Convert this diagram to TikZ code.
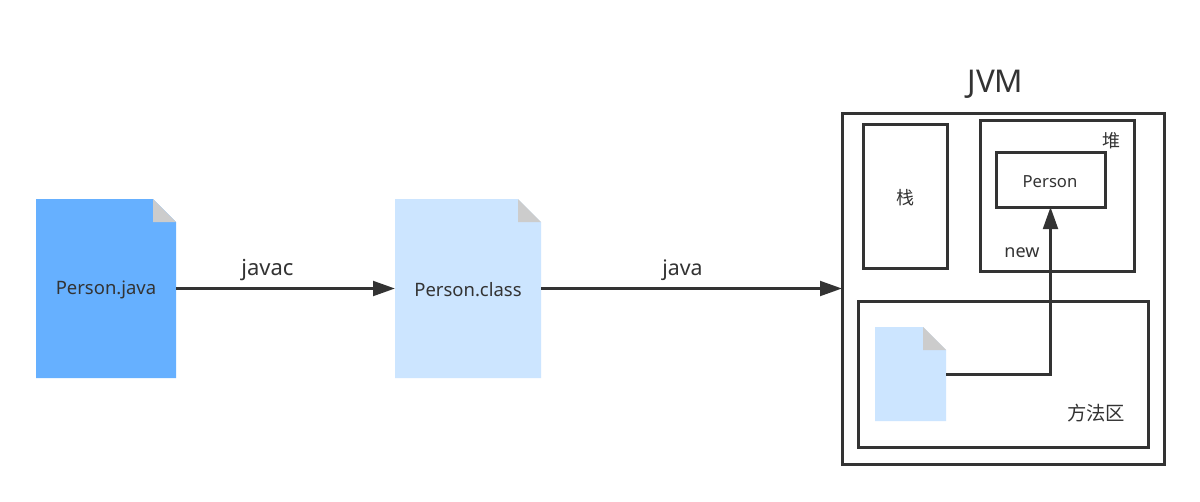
\documentclass[tikz,border=0pt]{standalone}
\usepackage{fontspec}
\setmainfont{Noto Sans}
\newfontfamily\cjk{Noto Sans CJK SC}
\usetikzlibrary{arrows.meta}
\definecolor{ink}{HTML}{333333}
\definecolor{filedark}{HTML}{66B0FF}
\definecolor{filelight}{HTML}{CCE5FF}
\definecolor{foldgrey}{HTML}{CCCCCC}
\tikzset{
  x=0.75pt,y=-0.75pt,
  frame/.style={draw=ink,line width=2.25pt,fill=white,inner sep=0pt,outer sep=0pt,anchor=north west},
  flow/.style={draw=ink,line width=2.25pt,-{Triangle[length=16.5pt,width=11pt]}},
  plain/.style={text=ink,inner sep=0pt},
  filebody/.style={inner sep=0pt,outer sep=0pt,text=ink,font=\fontsize{13.85}{16}\selectfont},
}
% Page-shaped node: name, corner, width, height, colour, text.
% The top right corner is cut off and shows a grey fold of 23px.
\newcommand{\filepage}[6]{%
  \node[filebody,minimum width=#3*0.75pt,minimum height=#4*0.75pt,anchor=north west] (#1) at #2 {};
  \fill[#5] (#1.north west) -- ([xshift=-17.25pt]#1.north east) -- ([yshift=-17.25pt]#1.north east) -- (#1.south east) -- (#1.south west) -- cycle;
  \fill[foldgrey] ([xshift=-17.25pt]#1.north east) -- ([yshift=-17.25pt]#1.north east) -- ([xshift=-17.25pt,yshift=-17.25pt]#1.north east) -- cycle;
  \node[filebody] (#1text) at ([yshift=-1.1pt]#1.center) {#6};
}
\begin{document}
\begin{tikzpicture}
  \useasboundingbox (0,0) rectangle (1200,501);
  \fill[white] (0,0) rectangle (1200,501);

  % JVM containers
  \node[frame,minimum width=322*0.75pt,minimum height=351*0.75pt] (jvm) at (842,113) {};
  \node[frame,minimum width=84*0.75pt,minimum height=144*0.75pt] (stack) at (863,124) {};
  \node[frame,minimum width=154*0.75pt,minimum height=151*0.75pt] (heap) at (980,120) {};
  \node[frame,minimum width=109*0.75pt,minimum height=55*0.75pt] (person) at (996,152) {};
  \node[frame,minimum width=290*0.75pt,minimum height=146*0.75pt] (method) at (858,301) {};

  % Source, class file and the loaded class
  \filepage{java}{(36,199)}{140}{179}{filedark}{Person.java}
  \filepage{class}{(395,199)}{146}{179}{filelight}{Person.class}
  \filepage{loaded}{(875,327)}{71}{94}{filelight}{}

  % Labels
  \node[plain,font=\fontsize{23.5}{27}\selectfont] (jvmlabel) at (995.5,84) {JVM};
  \node[plain,font=\cjk\fontsize{13.5}{16}\selectfont] (stacklabel) at (905,198) {栈};
  \node[plain,font=\cjk\fontsize{13.5}{16}\selectfont] (heaplabel) at (1111,141) {堆};
  \node[plain,font=\fontsize{12.5}{15}\selectfont] (personlabel) at (1050,182) {Person};
  \node[plain,font=\fontsize{13.5}{16}\selectfont] (newlabel) at (1022,252.5) {new};
  \node[plain,font=\cjk\fontsize{14.5}{17}\selectfont] (methodlabel) at (1096,413.5) {方法区};
  \node[plain,font=\fontsize{16.5}{20}\selectfont] (javac) at (267.5,270.5) {javac};
  \node[plain,font=\fontsize{16}{19}\selectfont] (javacmd) at (682.5,270) {java};

  % Connectors
  \draw[flow] (java.east) -- (class.west);
  \draw[flow] (class.east) -- (jvm.west);
  \draw[flow] (loaded.east) -| (person.south);
\end{tikzpicture}
\end{document}
